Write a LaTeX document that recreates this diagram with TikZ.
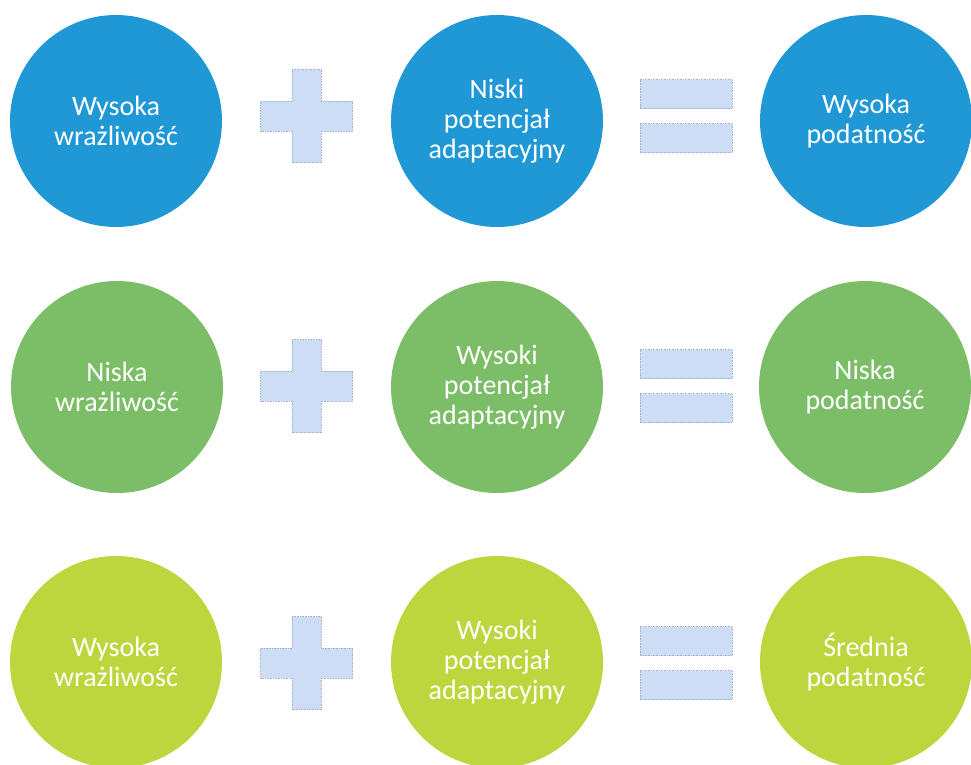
\documentclass[tikz,border=0pt]{standalone}
\usepackage{fontspec}
\setmainfont{Carlito}
\definecolor{cblue}{RGB}{33,152,214}
\definecolor{cgreen}{RGB}{124,190,104}
\definecolor{clime}{RGB}{190,214,62}
\definecolor{opfill}{RGB}{206,221,246}
\definecolor{opedge}{RGB}{165,178,208}
\tikzset{
  bub/.style={circle, minimum size=212pt, inner sep=0pt, align=center, text=white,
    font=\fontsize{28}{30}\selectfont},
  bblue/.style={bub, fill=cblue},
  bgreen/.style={bub, fill=cgreen},
  blime/.style={bub, fill=clime},
  opbar/.style={fill=opfill, draw=opedge, line width=0.6pt, densely dotted}
}
\newcommand{\plusop}[2]{%
  \path[opbar] (#1-14.5,#2-46.5) -- (#1+14.5,#2-46.5) -- (#1+14.5,#2-15)
    -- (#1+46,#2-15) -- (#1+46,#2+15) -- (#1+14.5,#2+15) -- (#1+14.5,#2+46.5)
    -- (#1-14.5,#2+46.5) -- (#1-14.5,#2+15) -- (#1-46,#2+15) -- (#1-46,#2-15)
    -- (#1-14.5,#2-15) -- cycle;
}
\newcommand{\eqop}[2]{%
  \path[opbar] (#1-46,#2-36.5) rectangle (#1+46,#2-7.5);
  \path[opbar] (#1-46,#2+7.5) rectangle (#1+46,#2+36.5);
}
\begin{document}
\begin{tikzpicture}[x=1pt,y=-1pt]
\useasboundingbox (0,0) rectangle (971,764);
\clip (0,0) rectangle (971,764);
\fill[white] (0,0) rectangle (971,764);
% row 1
\node[bblue] (a1) at (116,121) {Wysoka\\wrażliwość};
\node[bblue] (b1) at (497,121) {Niski\\potencjał\\adaptacyjny};
\node[bblue] (c1) at (866,121) {Wysoka\\podatność};
\plusop{306.5}{116}
\eqop{686}{116}
% row 2
\node[bgreen] (a2) at (117,387) {Niska\\wrażliwość};
\node[bgreen] (b2) at (497,387) {Wysoki\\potencjał\\adaptacyjny};
\node[bgreen] (c2) at (865,387) {Niska\\podatność};
\plusop{306.5}{386}
\eqop{686}{386}
% row 3
\node[blime] (a3) at (116,662) {Wysoka\\wrażliwość};
\node[blime] (b3) at (497,662) {Wysoki\\potencjał\\adaptacyjny};
\node[blime] (c3) at (866,662) {Średnia\\podatność};
\plusop{306.5}{663}
\eqop{686}{663}
\end{tikzpicture}
\end{document}
